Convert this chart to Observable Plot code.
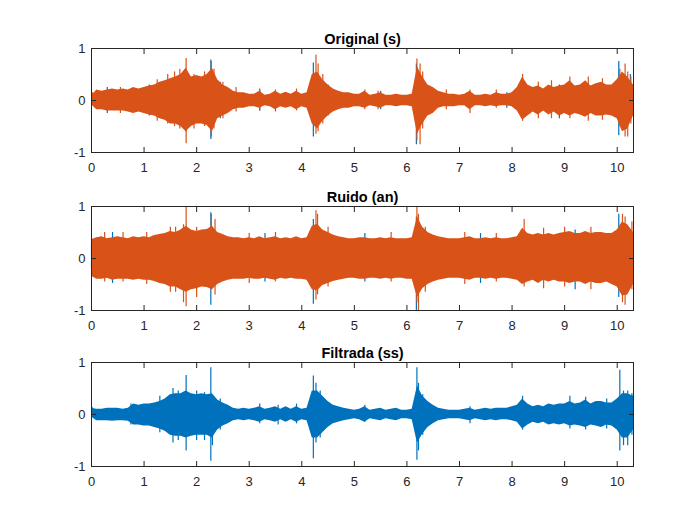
<!DOCTYPE html>
<html>
<head>
<meta charset="utf-8">
<script src="https://cdn.jsdelivr.net/npm/d3@7"></script>
<script src="https://cdn.jsdelivr.net/npm/@observablehq/plot@0.6"></script>
<style>
  html, body { margin: 0; padding: 0; background: #fff; }
  #fig { position: relative; width: 700px; height: 525px; background: #fff; overflow: hidden; }
  #fig svg { position: absolute; left: 0; }
</style>
</head>
<body>
<div id="fig"></div>
<script>
// ---- data ----
const titles = ["Original (s)", "Ruido (an)", "Filtrada (ss)"];
const xTicks = [0, 1, 2, 3, 4, 5, 6, 7, 8, 9, 10];
const yTicks = [-1, 0, 1];
const xMax = 10.31;

// envelope sample times (s)
const t = [
  0.0, 0.1, 0.2, 0.3, 0.4, 0.5, 0.6, 0.7, 0.8, 0.9,
  1.0, 1.1, 1.2, 1.3, 1.4, 1.5, 1.6, 1.7, 1.8, 1.9,
  2.0, 2.1, 2.2, 2.3, 2.4, 2.5, 2.6, 2.7, 2.8, 2.9,
  3.0, 3.1, 3.2, 3.3, 3.4, 3.5, 3.6, 3.7, 3.8, 3.9,
  4.0, 4.1, 4.2, 4.3, 4.4, 4.5, 4.6, 4.7, 4.8, 4.9,
  5.0, 5.1, 5.2, 5.3, 5.4, 5.5, 5.6, 5.7, 5.8, 5.9,
  6.0, 6.1, 6.2, 6.3, 6.4, 6.5, 6.6, 6.7, 6.8, 6.9,
  7.0, 7.1, 7.2, 7.3, 7.4, 7.5, 7.6, 7.7, 7.8, 7.9,
  8.0, 8.1, 8.2, 8.3, 8.4, 8.5, 8.6, 8.7, 8.8, 8.9,
  9.0, 9.1, 9.2, 9.3, 9.4, 9.5, 9.6, 9.7, 9.8, 9.9,
  10.0, 10.1, 10.2, 10.31
];

// Panel 1: Original (s) — orange envelope
const origHi = [
  0.08, 0.2, 0.18, 0.2, 0.22, 0.2, 0.22, 0.2, 0.25, 0.22,
  0.25, 0.28, 0.3, 0.35, 0.38, 0.42, 0.45, 0.5, 0.62, 0.45,
  0.48, 0.45, 0.5, 0.62, 0.4, 0.3, 0.25, 0.18, 0.15, 0.15,
  0.12, 0.12, 0.18, 0.1, 0.12, 0.18, 0.12, 0.16, 0.12, 0.18,
  0.12, 0.15, 0.5, 0.55, 0.4, 0.3, 0.22, 0.18, 0.15, 0.15,
  0.12, 0.12, 0.18, 0.1, 0.12, 0.15, 0.1, 0.1, 0.12, 0.1,
  0.1, 0.12, 0.65, 0.45, 0.3, 0.25, 0.18, 0.15, 0.12, 0.12,
  0.1, 0.12, 0.18, 0.1, 0.1, 0.12, 0.1, 0.15, 0.12, 0.12,
  0.15, 0.25, 0.45, 0.3, 0.25, 0.28, 0.22, 0.3, 0.25, 0.28,
  0.3, 0.38, 0.28, 0.3, 0.38, 0.28, 0.32, 0.35, 0.3, 0.3,
  0.4, 0.55, 0.45, 0.3
];
const origLo = [
  -0.08, -0.18, -0.18, -0.2, -0.2, -0.2, -0.2, -0.22, -0.25, -0.22,
  -0.25, -0.28, -0.3, -0.35, -0.38, -0.45, -0.45, -0.5, -0.6, -0.5,
  -0.45, -0.45, -0.48, -0.6, -0.35, -0.3, -0.25, -0.18, -0.15, -0.15,
  -0.12, -0.12, -0.15, -0.1, -0.12, -0.18, -0.12, -0.15, -0.12, -0.18,
  -0.12, -0.15, -0.45, -0.55, -0.4, -0.3, -0.22, -0.18, -0.15, -0.15,
  -0.12, -0.12, -0.15, -0.1, -0.12, -0.15, -0.1, -0.1, -0.12, -0.1,
  -0.1, -0.12, -0.65, -0.45, -0.3, -0.25, -0.15, -0.12, -0.12, -0.12,
  -0.1, -0.1, -0.18, -0.1, -0.1, -0.12, -0.1, -0.12, -0.1, -0.1,
  -0.12, -0.2, -0.38, -0.3, -0.22, -0.28, -0.2, -0.28, -0.22, -0.3,
  -0.25, -0.3, -0.25, -0.28, -0.32, -0.25, -0.3, -0.3, -0.28, -0.3,
  -0.35, -0.6, -0.55, -0.3
];
const origSpikeT  = [0.02, 0.55, 1.25, 1.45, 1.58, 1.68, 1.8, 1.95, 2.15, 2.28, 2.33, 2.5, 2.75, 3.2, 3.5, 3.9, 4.27, 4.31, 4.4, 5.2, 5.45, 6.19, 6.25, 6.3, 6.75, 7.2, 7.7, 8.2, 8.5, 8.75, 9.1, 9.45, 9.72, 10.05, 10.15, 10.2, 10.26];
const origSpikeHi = [0.15, 0.25, 0.4, 0.5, 0.55, 0.6, 0.81, 0.5, 0.55, 0.75, 0.6, 0.35, 0.25, 0.22, 0.2, 0.22, 0.87, 0.7, 0.5, 0.2, 0.18, 0.8, 0.7, 0.55, 0.2, 0.2, 0.2, 0.5, 0.35, 0.38, 0.45, 0.45, 0.42, 0.6, 0.7, 0.55, 0.45];
const origSpikeLo = [-0.05, -0.25, -0.4, -0.45, -0.5, -0.55, -0.83, -0.55, -0.5, -0.7, -0.55, -0.35, -0.22, -0.2, -0.22, -0.2, -0.65, -0.6, -0.45, -0.18, -0.18, -0.78, -0.85, -0.55, -0.18, -0.25, -0.15, -0.4, -0.35, -0.35, -0.35, -0.4, -0.38, -0.5, -0.7, -0.7, -0.45];
const origBlueT  = [0.3, 1.1, 1.8, 2.27, 2.45, 3.2, 4.22, 4.5, 5.5, 6.18, 7.9, 8.9, 10.03, 10.25];
const origBlueHi = [0.25, 0.3, 0.55, 0.78, 0.35, 0.2, 0.72, 0.3, 0.18, 0.7, 0.15, 0.3, 0.75, 0.5];
const origBlueLo = [-0.25, -0.3, -0.6, -0.75, -0.35, -0.2, -0.7, -0.3, -0.18, -0.85, -0.15, -0.35, -0.68, -0.4];

// Panel 2: Ruido (an) — orange envelope
const noiseHi = [
  0.36, 0.4, 0.42, 0.38, 0.4, 0.42, 0.4, 0.38, 0.42, 0.4,
  0.42, 0.4, 0.44, 0.46, 0.48, 0.52, 0.5, 0.55, 0.62, 0.55,
  0.52, 0.55, 0.56, 0.62, 0.5, 0.46, 0.42, 0.4, 0.4, 0.38,
  0.4, 0.38, 0.42, 0.38, 0.4, 0.42, 0.38, 0.4, 0.38, 0.42,
  0.38, 0.4, 0.62, 0.66, 0.55, 0.5, 0.45, 0.42, 0.4, 0.38,
  0.38, 0.4, 0.4, 0.38, 0.38, 0.4, 0.38, 0.4, 0.38, 0.38,
  0.38, 0.4, 0.8, 0.6, 0.5, 0.45, 0.42, 0.4, 0.38, 0.38,
  0.38, 0.4, 0.42, 0.38, 0.38, 0.4, 0.38, 0.4, 0.38, 0.38,
  0.4, 0.42, 0.58, 0.48, 0.45, 0.48, 0.45, 0.48, 0.45, 0.48,
  0.5, 0.52, 0.48, 0.48, 0.52, 0.48, 0.5, 0.5, 0.48, 0.48,
  0.55, 0.7, 0.65, 0.5
];
const noiseLo = [
  -0.34, -0.4, -0.4, -0.38, -0.42, -0.4, -0.4, -0.4, -0.42, -0.4,
  -0.42, -0.42, -0.44, -0.48, -0.5, -0.55, -0.55, -0.6, -0.65, -0.6,
  -0.58, -0.55, -0.56, -0.6, -0.5, -0.45, -0.42, -0.4, -0.4, -0.4,
  -0.38, -0.4, -0.4, -0.38, -0.4, -0.42, -0.38, -0.4, -0.38, -0.4,
  -0.4, -0.42, -0.6, -0.62, -0.52, -0.48, -0.44, -0.42, -0.4, -0.38,
  -0.38, -0.4, -0.4, -0.38, -0.38, -0.4, -0.38, -0.4, -0.38, -0.38,
  -0.4, -0.4, -0.75, -0.58, -0.5, -0.45, -0.42, -0.4, -0.38, -0.38,
  -0.38, -0.4, -0.42, -0.38, -0.38, -0.4, -0.38, -0.4, -0.38, -0.38,
  -0.4, -0.42, -0.5, -0.45, -0.42, -0.48, -0.42, -0.45, -0.42, -0.45,
  -0.45, -0.48, -0.45, -0.45, -0.5, -0.45, -0.48, -0.48, -0.45, -0.5,
  -0.55, -0.72, -0.7, -0.5
];
const noiseSpikeT  = [0.25, 0.6, 1.05, 1.5, 1.6, 1.75, 1.8, 2.0, 2.28, 2.35, 3.0, 3.5, 4.27, 4.3, 4.5, 5.7, 6.19, 6.22, 6.35, 7.1, 7.7, 8.23, 8.6, 9.0, 9.5, 10.1, 10.15, 10.28];
const noiseSpikeHi = [0.5, 0.5, 0.5, 0.6, 0.6, 0.65, 1.0, 0.6, 0.85, 0.75, 0.48, 0.5, 0.92, 0.85, 0.6, 0.5, 1.0, 0.85, 0.6, 0.5, 0.48, 0.75, 0.58, 0.6, 0.6, 0.85, 0.8, 0.7];
const noiseSpikeLo = [-0.45, -0.45, -0.5, -0.65, -0.65, -0.85, -0.93, -0.75, -0.6, -0.7, -0.48, -0.45, -0.8, -0.7, -0.55, -0.45, -0.85, -1.0, -0.65, -0.5, -0.45, -0.55, -0.58, -0.55, -0.6, -0.85, -0.9, -0.6];
const noiseBlueT  = [0.0, 0.4, 2.27, 3.3, 4.22, 5.2, 6.18, 7.4, 9.2, 10.03];
const noiseBlueHi = [0.3, 0.5, 0.88, 0.48, 0.75, 0.48, 0.8, 0.48, 0.55, 0.85];
const noiseBlueLo = [-0.2, -0.48, -0.9, -0.45, -0.88, -0.45, -1.0, -0.48, -0.6, -0.75];

// Panel 3: Filtrada (ss) — blue envelope
const filtHi = [
  0.12, 0.1, 0.1, 0.12, 0.12, 0.12, 0.1, 0.12, 0.2, 0.18,
  0.2, 0.2, 0.22, 0.25, 0.3, 0.38, 0.4, 0.4, 0.45, 0.4,
  0.38, 0.4, 0.38, 0.4, 0.28, 0.22, 0.18, 0.12, 0.1, 0.12,
  0.1, 0.12, 0.15, 0.1, 0.12, 0.15, 0.1, 0.15, 0.1, 0.15,
  0.1, 0.12, 0.45, 0.45, 0.35, 0.25, 0.18, 0.15, 0.12, 0.1,
  0.08, 0.1, 0.15, 0.08, 0.1, 0.12, 0.08, 0.1, 0.12, 0.08,
  0.08, 0.1, 0.55, 0.35, 0.25, 0.18, 0.12, 0.1, 0.08, 0.08,
  0.08, 0.1, 0.12, 0.08, 0.1, 0.12, 0.1, 0.12, 0.12, 0.12,
  0.15, 0.18, 0.3, 0.2, 0.15, 0.18, 0.15, 0.2, 0.18, 0.2,
  0.2, 0.25, 0.2, 0.22, 0.28, 0.2, 0.25, 0.25, 0.22, 0.22,
  0.3, 0.4, 0.4, 0.35
];
const filtLo = [
  -0.05, -0.12, -0.12, -0.12, -0.13, -0.12, -0.12, -0.13, -0.2, -0.2,
  -0.22, -0.22, -0.25, -0.28, -0.32, -0.4, -0.42, -0.42, -0.45, -0.42,
  -0.4, -0.4, -0.4, -0.45, -0.3, -0.22, -0.18, -0.12, -0.1, -0.12,
  -0.1, -0.12, -0.15, -0.1, -0.12, -0.15, -0.1, -0.15, -0.1, -0.15,
  -0.1, -0.12, -0.45, -0.45, -0.35, -0.25, -0.18, -0.15, -0.12, -0.1,
  -0.08, -0.1, -0.15, -0.08, -0.1, -0.12, -0.08, -0.1, -0.12, -0.08,
  -0.08, -0.1, -0.55, -0.38, -0.25, -0.18, -0.12, -0.1, -0.08, -0.08,
  -0.08, -0.1, -0.12, -0.08, -0.1, -0.12, -0.1, -0.12, -0.1, -0.1,
  -0.12, -0.15, -0.28, -0.2, -0.15, -0.18, -0.15, -0.2, -0.18, -0.2,
  -0.18, -0.22, -0.2, -0.22, -0.25, -0.2, -0.22, -0.25, -0.2, -0.22,
  -0.3, -0.45, -0.45, -0.3
];
const filtSpikeT  = [0.01, 0.75, 1.3, 1.55, 1.65, 1.8, 2.0, 2.15, 2.27, 2.3, 2.45, 3.2, 3.55, 3.9, 4.22, 4.27, 4.35, 5.2, 6.19, 6.22, 6.3, 7.2, 8.2, 9.1, 9.4, 9.8, 10.05, 10.12, 10.2, 10.28];
const filtSpikeHi = [0.14, 0.2, 0.35, 0.5, 0.45, 0.75, 0.45, 0.42, 0.9, 0.35, 0.3, 0.2, 0.18, 0.2, 0.74, 0.6, 0.45, 0.18, 0.9, 0.6, 0.38, 0.15, 0.35, 0.35, 0.33, 0.3, 0.85, 0.45, 0.45, 0.4];
const filtSpikeLo = [-0.05, -0.2, -0.35, -0.55, -0.5, -0.7, -0.5, -0.5, -0.9, -0.6, -0.3, -0.18, -0.2, -0.18, -0.85, -0.55, -0.45, -0.15, -0.88, -0.7, -0.4, -0.18, -0.3, -0.28, -0.3, -0.28, -0.7, -0.6, -0.6, -0.4];

// ---- drawing ----
const BLUE = "#0072BD", ORANGE = "#D95319", AX = "#262626";
const fmt = d => (d < 0 ? "-" + (-d) : String(d));
const idx = a => a.map((_, i) => i);

function envelope(hi, lo, color) {
  return Plot.areaY(idx(t), {x: i => t[i], y1: i => lo[i], y2: i => hi[i], fill: color, curve: "linear"});
}
function spikes(T, H, L, color) {
  return Plot.ruleX(idx(T), {x: i => T[i], y1: i => L[i], y2: i => H[i], stroke: color, strokeWidth: 1.2});
}

function panel(title, layers) {
  return Plot.plot({
    width: 700, height: 175,
    marginLeft: 91, marginRight: 67, marginTop: 48, marginBottom: 23,
    x: {domain: [0, xMax]},
    y: {domain: [-1, 1]},
    style: {fontFamily: '"Liberation Sans", Arial, Helvetica, sans-serif', fontSize: "13px", color: AX, background: "transparent", overflow: "visible"},
    marks: [
      ...layers,
      Plot.frame({stroke: AX, strokeWidth: 1}),
      Plot.axisX({ticks: xTicks, tickSize: 0, tickPadding: 10, tickFormat: fmt, label: null, fill: AX}),
      Plot.axisX({ticks: xTicks, tickSize: -5, tickFormat: () => "", label: null, stroke: AX}),
      Plot.axisX({anchor: "top", ticks: xTicks, tickSize: -5, tickFormat: () => "", label: null, stroke: AX}),
      Plot.axisY({ticks: yTicks, tickSize: 0, tickPadding: 6, tickFormat: fmt, label: null, fill: AX}),
      Plot.axisY({ticks: yTicks, tickSize: -5, tickFormat: () => "", label: null, stroke: AX}),
      Plot.axisY({anchor: "right", ticks: yTicks, tickSize: -5, tickFormat: () => "", label: null, stroke: AX}),
      Plot.text([title], {frameAnchor: "top", dy: -5, lineAnchor: "bottom", text: d => d, fontWeight: "bold", fontSize: 14.5, fill: "#000"})
    ]
  });
}

const p1 = panel(titles[0], [
  spikes(origBlueT, origBlueHi, origBlueLo, BLUE),
  envelope(origHi, origLo, ORANGE),
  spikes(origSpikeT, origSpikeHi, origSpikeLo, ORANGE)
]);
const p2 = panel(titles[1], [
  spikes(noiseBlueT, noiseBlueHi, noiseBlueLo, BLUE),
  envelope(noiseHi, noiseLo, ORANGE),
  spikes(noiseSpikeT, noiseSpikeHi, noiseSpikeLo, ORANGE)
]);
const p3 = panel(titles[2], [
  envelope(filtHi, filtLo, BLUE),
  spikes(filtSpikeT, filtSpikeHi, filtSpikeLo, BLUE)
]);

const fig = document.getElementById("fig");
[[p1, 0], [p2, 158], [p3, 314]].forEach(([svg, top]) => {
  svg.style.top = top + "px";
  fig.appendChild(svg);
});
</script>
</body>
</html>
